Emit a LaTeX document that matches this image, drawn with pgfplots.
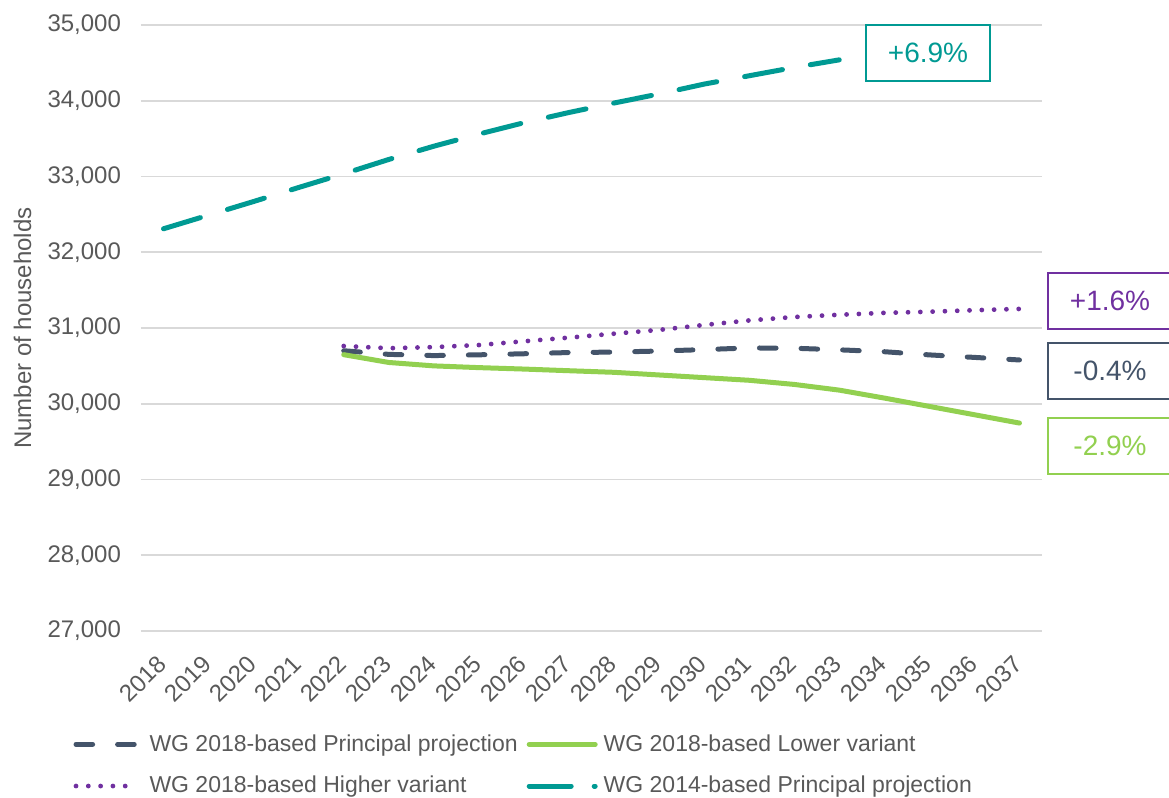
\documentclass[border=0pt]{standalone}
\usepackage{fontspec}
\setmainfont{Liberation Sans}
\usepackage{pgfplots}
\pgfplotsset{compat=1.18}
\definecolor{tealc}{HTML}{009A93}
\definecolor{slatec}{HTML}{44546A}
\definecolor{greenc}{HTML}{92D050}
\definecolor{purplec}{HTML}{7030A0}
\definecolor{txtgray}{HTML}{595959}
\definecolor{gridgray}{HTML}{D9D9D9}
\pgfplotsset{
  longimg/.style={legend image code/.code={\draw[##1] (0pt,0pt) -- (33pt,0pt);}},
  tealimg/.style={legend image code/.code={\draw[##1, dash pattern=on 21pt off 11.5pt] (0pt,0pt) -- (33pt,0pt);}},
}
\begin{document}
\begin{tikzpicture}[x=1pt,y=1pt]
\begin{axis}[
  at={(0,0)}, anchor=south west,
  scale only axis, width=450.5pt, height=303pt,
  xmin=-0.5, xmax=19.5, ymin=27000, ymax=35000,
  xtick={0,1,2,3,4,5,6,7,8,9,10,11,12,13,14,15,16,17,18,19},
  xticklabels={2018,2019,2020,2021,2022,2023,2024,2025,2026,2027,2028,2029,2030,2031,2032,2033,2034,2035,2036,2037},
  ytick={27000,28000,29000,30000,31000,32000,33000,34000,35000},
  scaled y ticks=false,
  ymajorgrids, major grid style={line width=0.85pt, color=gridgray},
  axis line style={draw=none}, tick style={draw=none},
  tick label style={font=\fontsize{12}{14}\selectfont, text=txtgray},
  yticklabel style={/pgf/number format/1000 sep={,}, /pgf/number format/assume math mode=true, xshift=-6.5pt},
  xticklabel style={rotate=45, anchor=north east, yshift=-1.8pt, xshift=-7.3pt},
  every axis y label/.style={at={(axis description cs:-0.1315,0.5)}, rotate=90, anchor=center},
  ylabel={Number of households},
  label style={font=\fontsize{12}{14}\selectfont, text=txtgray},
  legend columns=2,
  legend cell align=left,
  legend image code/.code={\draw[#1] (0pt,0pt) -- (30.5pt,0pt);},
  legend style={at={(axis description cs:-0.082,-0.157)}, anchor=north west, draw=none, fill=none,
    font=\fontsize{11.5}{13}\selectfont, text=txtgray, row sep=7pt,
    /tikz/column 1/.style={column sep=3pt},
    /tikz/column 2/.style={column sep=2.5pt},
    /tikz/column 3/.style={column sep=1pt}},
]
\addplot[slatec, line width=2.5pt, line cap=round, dash pattern=on 8.3pt off 12.5pt] coordinates {
(4,30700) (5,30652) (6,30636) (7,30646) (8,30660) (9,30676) (10,30682) (11,30696) (12,30715) (13,30737) (14,30733) (15,30712) (16,30687) (17,30645) (18,30612) (19,30578)};
\addlegendentry{WG 2018-based Principal projection}
\addplot[greenc, line width=2.5pt, line cap=round, longimg] coordinates {
(4,30648) (5,30545) (6,30500) (7,30477) (8,30458) (9,30436) (10,30415) (11,30380) (12,30345) (13,30310) (14,30255) (15,30180) (16,30075) (17,29965) (18,29855) (19,29745)};
\addlegendentry{WG 2018-based Lower variant}
\addplot[purplec, line width=2.4pt, line cap=round, dash pattern=on 0pt off 6.15pt] coordinates {
(4,30762) (5,30733) (6,30748) (7,30775) (8,30825) (9,30873) (10,30925) (11,30975) (12,31040) (13,31100) (14,31145) (15,31175) (16,31200) (17,31215) (18,31235) (19,31252)};
\addlegendentry{WG 2018-based Higher variant}
\addplot[tealc, line width=2.5pt, line cap=round, dash pattern=on 19.25pt off 14.15pt, tealimg] coordinates {
(0,32310) (1,32490) (2,32670) (3,32855) (4,33036) (5,33225) (6,33400) (7,33560) (8,33710) (9,33845) (10,33970) (11,34090) (12,34220) (13,34330) (14,34440) (15,34540)};
\addlegendentry{WG 2014-based Principal projection}
\end{axis}
\begin{scope}[every node/.style={fill=white, line width=0.9pt, minimum width=62pt, minimum height=28pt, inner sep=0pt, font=\fontsize{14}{16}\selectfont}]
\node[draw=tealc, text=tealc] at (393.5,289) {+6.9\%};
\node[draw=purplec, text=purplec] at (484.5,165) {+1.6\%};
\node[draw=slatec, text=slatec] at (484.5,130) {-0.4\%};
\node[draw=greenc, text=greenc] at (484.5,92.5) {-2.9\%};
\end{scope}
\pgfresetboundingbox
\useasboundingbox (-70.5,-83.5) rectangle (514,315.5);
\end{tikzpicture}
\end{document}
